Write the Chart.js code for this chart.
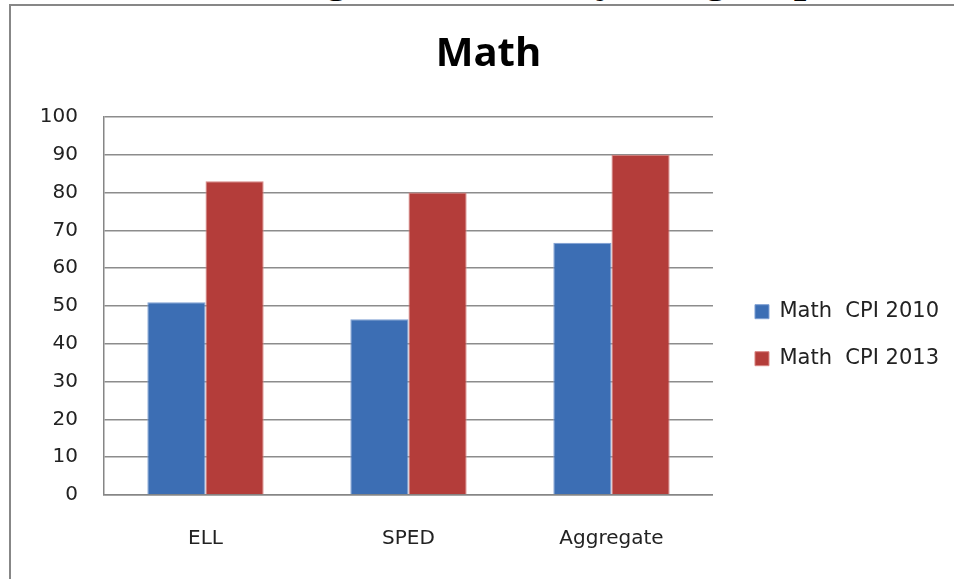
<!DOCTYPE html>
<html>
<head>
<meta charset="utf-8">
<script src="https://cdn.jsdelivr.net/npm/chart.js@4/dist/chart.umd.min.js"></script>
<style>
  html, body { margin: 0; padding: 0; background: #fff; overflow: hidden; width: 954px; height: 579px; }
  #heading { position: absolute; left: 256px; top: -45px; font: bold 45px/45px "Liberation Serif", serif; white-space: nowrap; color: #000; }
  #frame { position: absolute; left: 9px; top: 4px; width: 1000px; height: 700px; border: 2px solid #878787; box-sizing: border-box; background: #fff; }
  #wrap { position: absolute; left: 0; top: 0; width: 954px; height: 579px; }
</style>
</head>
<body>
<div id="heading">Progress in CPI by Subgroup</div>
<div id="frame"></div>
<div id="wrap"><canvas id="c" width="954" height="579"></canvas></div>
<script>
// Subgroups on the category axis
const categories = ['ELL', 'SPED', 'Aggregate'];
// Math CPI per subgroup
const mathCpi2010 = [51, 46.5, 66.7];
const mathCpi2013 = [83, 80, 90];
const seriesNames = ['Math  CPI 2010', 'Math  CPI 2013'];
// Value axis range and step
const yMin = 0;
const yMax = 100;
const yStep = 10;

const tickFont = { family: '"DejaVu Sans", sans-serif', size: 20 };
const textColor = '#222';
const axisGray = '#868686';

// Leaves a small gap between the plot area and the legend,
// and centres the title over the framed area
const boxNudge = {
  id: 'boxNudge',
  afterLayout(chart) {
    const lg = chart.legend;
    if (lg) { lg.left += 16; lg.right += 16; }
    const tb = chart.titleBlock;
    if (tb) { tb.left += 4; tb.right += 4; }
  }
};

new Chart(document.getElementById('c'), {
  type: 'bar',
  data: {
    labels: categories,
    datasets: [
      { label: seriesNames[0], data: mathCpi2010, backgroundColor: '#3C6EB4', borderColor: '#7E9FD3', borderWidth: 1 },
      { label: seriesNames[1], data: mathCpi2013, backgroundColor: '#B43D3A', borderColor: '#D98683', borderWidth: 1 }
    ]
  },
  plugins: [boxNudge],
  options: {
    responsive: false,
    animation: false,
    layout: { padding: { left: 36, right: 21, top: 0, bottom: 0 } },
    datasets: { bar: { categoryPercentage: 0.573, barPercentage: 1 } },
    plugins: {
      title: {
        display: true,
        text: 'Math',
        color: '#000',
        font: { family: '"Open Sans", sans-serif', size: 40, weight: 'bold' },
        padding: { top: 31, bottom: 38 }
      },
      legend: {
        position: 'right',
        align: 'center',
        title: { display: true, text: '', padding: { top: 77, bottom: 0 } },
        labels: {
          boxWidth: 14,
          boxHeight: 14,
          padding: 26,
          color: textColor,
          font: { family: '"DejaVu Sans", sans-serif', size: 21 }
        }
      },
      tooltip: { enabled: false }
    },
    scales: {
      x: {
        grid: { display: false },
        border: { color: axisGray, width: 1.5 },
        ticks: { color: textColor, padding: 24, font: tickFont },
        afterFit(scale) { scale.height = 84; }
      },
      y: {
        min: yMin,
        max: yMax,
        ticks: { stepSize: yStep, padding: 26, color: textColor, font: tickFont },
        grid: { color: '#8c8c8c', lineWidth: 1.5, drawTicks: false },
        border: { color: axisGray, width: 1.5 },
        afterFit(scale) { scale.width = 68; }
      }
    }
  }
});
</script>
</body>
</html>
